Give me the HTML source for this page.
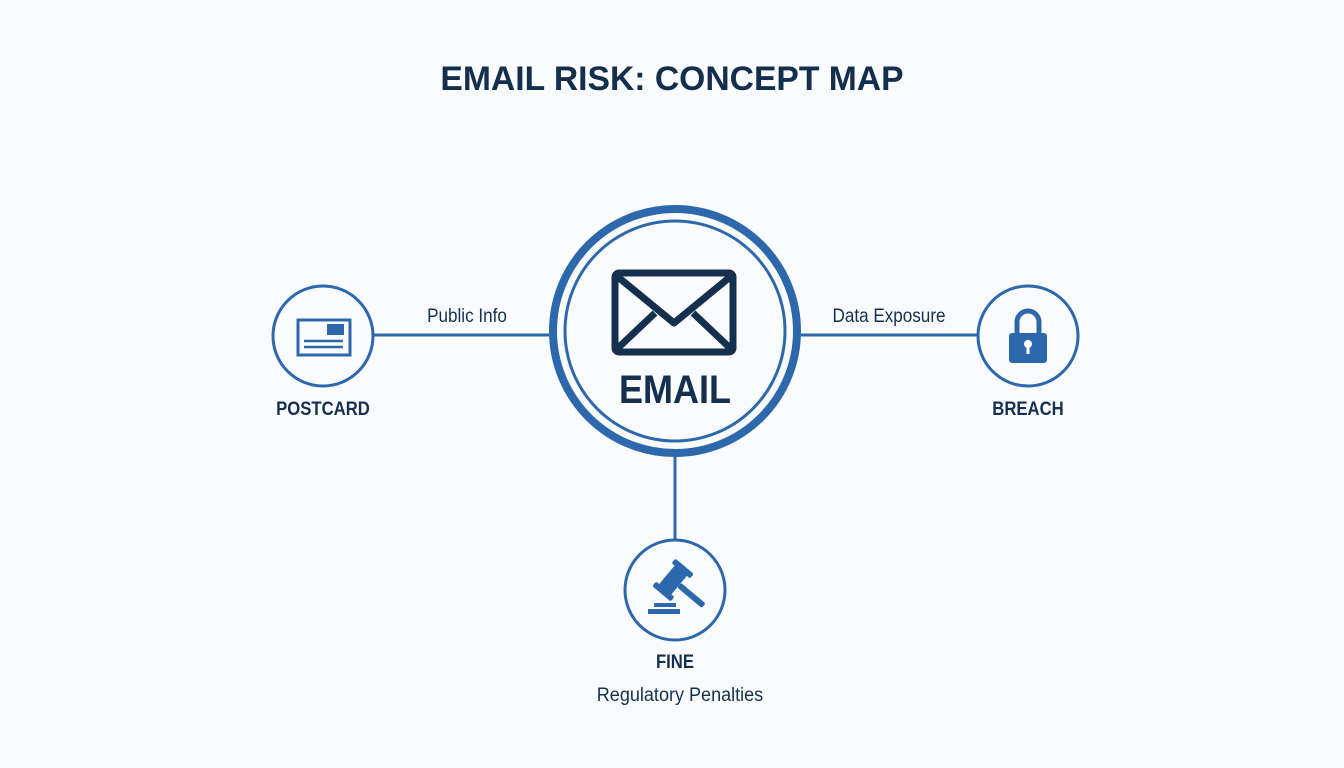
<!DOCTYPE html>
<html><head><meta charset="utf-8"><style>
html,body{margin:0;padding:0;background:#f9fbfc;}
svg{display:block}
text{font-family:"Liberation Sans",sans-serif;}
</style></head><body>
<svg width="1344" height="768" viewBox="0 0 1344 768">
<rect width="1344" height="768" fill="#f9fbfc"/>
<text x="672" y="90" text-anchor="middle" font-size="34" font-weight="bold" fill="#142f4d" transform="translate(672 0) scale(0.99 1) translate(-672 0)">EMAIL RISK: CONCEPT MAP</text>
<g stroke="#2d68ad" stroke-width="3" fill="none">
<line x1="373" y1="335" x2="549" y2="335"/>
<line x1="801" y1="335" x2="978" y2="335"/>
<line x1="675" y1="456" x2="675" y2="540"/>
<circle cx="323" cy="336" r="50"/>
<circle cx="1028" cy="336" r="50"/>
<circle cx="675" cy="590" r="50"/>
<circle cx="675" cy="331" r="110"/>
</g>
<circle cx="675" cy="331" r="122" stroke="#2d68ad" stroke-width="8" fill="none"/>
<!-- envelope -->
<g stroke="#15304f" stroke-width="7" fill="none" stroke-linejoin="round">
<rect x="615" y="273" width="118" height="79" rx="4"/>
<polyline points="618,277 674,323 730,277"/>
<line x1="618" y1="348" x2="655" y2="313"/>
<line x1="730" y1="348" x2="693" y2="313"/>
</g>
<text x="675" y="403" text-anchor="middle" font-size="40" font-weight="bold" fill="#15304f" transform="translate(675 0) scale(0.9 1) translate(-675 0)">EMAIL</text>
<!-- postcard -->
<rect x="298" y="320" width="52" height="35" fill="none" stroke="#2d68ad" stroke-width="3"/>
<rect x="327" y="324" width="17" height="11" fill="#2d68ad"/>
<line x1="304" y1="341" x2="343" y2="341" stroke="#2d68ad" stroke-width="2.5"/>
<line x1="304" y1="347" x2="343" y2="347" stroke="#2d68ad" stroke-width="2.5"/>
<!-- lock -->
<path d="M1017,334 V322 a11,11 0 0 1 22,0 V334" fill="none" stroke="#2d68ad" stroke-width="5"/>
<rect x="1009" y="333" width="38" height="30" rx="3" fill="#2d68ad"/>
<circle cx="1028" cy="344" r="4" fill="#fff"/>
<rect x="1026.5" y="345" width="3" height="9" fill="#fff"/>
<!-- gavel -->
<g fill="#2d68ad">
<g transform="translate(673 580) rotate(-50)">
<rect x="-14" y="-8" width="28" height="16" rx="1"/>
<rect x="-18" y="-12" width="6" height="24" rx="2"/>
<rect x="12" y="-12" width="6" height="24" rx="2"/>
<rect x="-3" y="8" width="6" height="32" rx="2"/>
</g>
<rect x="654" y="603" width="22" height="4"/>
<rect x="648" y="609" width="32" height="5"/>
</g>
<g font-size="19" font-weight="bold" fill="#15304f" text-anchor="middle">
<text x="323" y="415" transform="translate(323 0) scale(0.88 1) translate(-323 0)">POSTCARD</text>
<text x="1028" y="415" transform="translate(1028 0) scale(0.88 1) translate(-1028 0)">BREACH</text>
<text x="675" y="668" transform="translate(675 0) scale(0.88 1) translate(-675 0)">FINE</text>
</g>
<g font-size="19" fill="#15304f" text-anchor="middle">
<text x="467" y="322" transform="translate(467 0) scale(0.9 1) translate(-467 0)">Public Info</text>
<text x="889" y="322" transform="translate(889 0) scale(0.9 1) translate(-889 0)">Data Exposure</text>
<text x="680" y="701" transform="translate(680 0) scale(0.95 1) translate(-680 0)">Regulatory Penalties</text>
</g>
</svg>
</body></html>
